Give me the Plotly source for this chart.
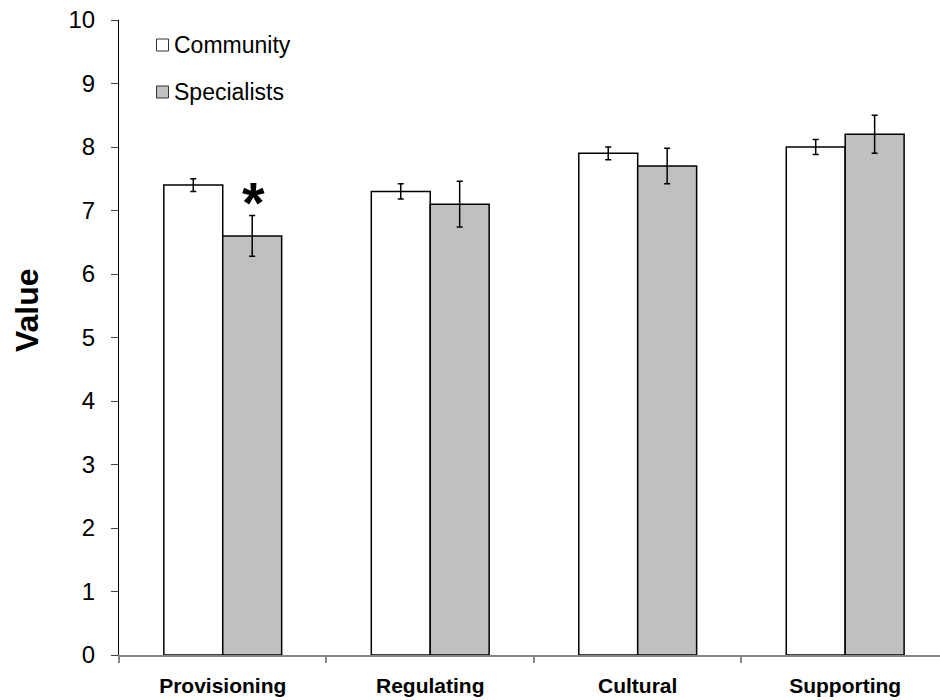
import plotly.graph_objects as go

# Ecosystem service categories and mean ratings (with standard errors)
categories = ["Provisioning", "Regulating", "Cultural", "Supporting"]
community = [7.4, 7.3, 7.9, 8.0]
community_err = [0.10, 0.12, 0.10, 0.12]
specialists = [6.6, 7.1, 7.7, 8.2]
specialists_err = [0.32, 0.36, 0.28, 0.30]
y_ticks = list(range(0, 11))

COMMUNITY_FILL = "#FFFFFF"
SPECIALIST_FILL = "#C0C0C0"
FONT = "Liberation Sans, Arial, sans-serif"

W, H = 940, 700
L, R, T, B = 119, 0, 20, 45
PW, PH = W - L - R, H - T - B


def px_x(px):
    return (px - L) / PW


def px_y(py):
    return (H - B - py) / PH


fig = go.Figure()
for name, vals, errs, fill in [
    ("Community", community, community_err, COMMUNITY_FILL),
    ("Specialists", specialists, specialists_err, SPECIALIST_FILL),
]:
    fig.add_trace(go.Bar(
        x=categories, y=vals, name=name,
        marker=dict(color=fill, line=dict(color="black", width=1.5)),
        error_y=dict(type="data", array=errs, visible=True,
                     color="black", thickness=1.5, width=3),
        showlegend=False,
    ))

# legend: small swatches with labels in the upper left
shapes = []
annotations = []
for label, fill, cy in [("Community", COMMUNITY_FILL, 45), ("Specialists", SPECIALIST_FILL, 92)]:
    shapes.append(dict(type="rect", xref="paper", yref="paper",
                       x0=px_x(156.5), x1=px_x(168.5), y0=px_y(cy + 6), y1=px_y(cy - 6),
                       fillcolor=fill, line=dict(color="#333333", width=1)))
    annotations.append(dict(xref="paper", yref="paper", x=px_x(172), y=px_y(cy),
                            xanchor="left", yanchor="middle", showarrow=False,
                            text=label, font=dict(family=FONT, size=23, color="black")))

# significance marker above the specialists' provisioning bar
annotations.append(dict(x="Provisioning", y=7.29, xref="x", yref="y", xshift=31,
                        yshift=-10, text="<b>*</b>", showarrow=False,
                        font=dict(family=FONT, size=58, color="black"),
                        xanchor="center", yanchor="middle"))

# y-axis title
annotations.append(dict(xref="paper", yref="paper", x=px_x(27), y=px_y(310),
                        xanchor="center", yanchor="middle", showarrow=False,
                        textangle=-90, text="<b>Value</b>",
                        font=dict(family=FONT, size=32, color="black")))

fig.update_layout(
    width=W, height=H,
    margin=dict(l=L, r=R, t=T, b=B, autoexpand=False),
    paper_bgcolor="white", plot_bgcolor="white",
    barmode="group", bargap=0.432, bargroupgap=0,
    font=dict(family=FONT, color="black"),
    shapes=shapes, annotations=annotations,
)
fig.update_xaxes(
    type="category", range=[-0.5, 3.457],
    showline=True, linecolor="#868686", linewidth=1.5,
    ticks="outside", tickson="boundaries", ticklen=6, tickcolor="#868686", tickwidth=1.5,
    tickfont=dict(family=FONT, size=21, color="black"),
    ticktext=[f"<b>{c}</b>" for c in categories], tickvals=categories,
    ticklabelstandoff=11,
    showgrid=False, zeroline=False,
)
fig.update_yaxes(
    range=[0, 10], tickvals=y_ticks,
    showline=True, linecolor="black", linewidth=1,
    ticks="outside", ticklen=7, tickcolor="#404040", tickwidth=1,
    tickfont=dict(family=FONT, size=24, color="black"),
    ticklabelstandoff=11,
    showgrid=False, zeroline=False,
)

fig.write_html("out.html")
